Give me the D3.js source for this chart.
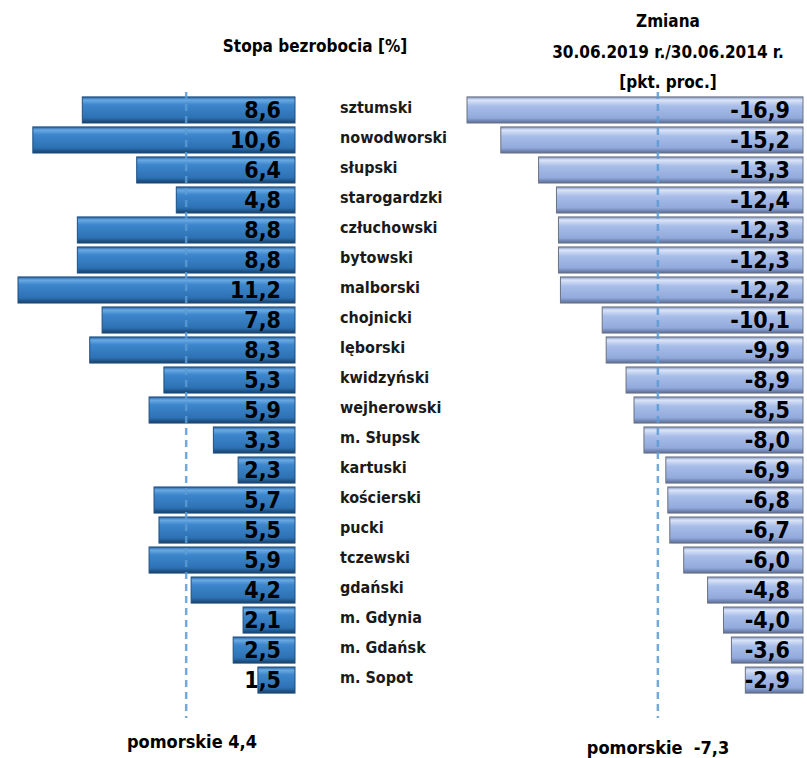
<!DOCTYPE html>
<html>
<head>
<meta charset="utf-8">
<script src="https://cdn.jsdelivr.net/npm/d3@7"></script>
<style>
  body { margin: 0; background: #fff; }
  svg { display: block; font-family: "Liberation Sans Narrow", "DejaVu Sans Condensed", sans-serif; font-weight: bold; }
</style>
</head>
<body>
<svg id="chart"></svg>
<script>
// powiaty
var categories = ["sztumski","nowodworski","słupski","starogardzki","człuchowski","bytowski","malborski",
  "chojnicki","lęborski","kwidzyński","wejherowski","m. Słupsk","kartuski","kościerski","pucki",
  "tczewski","gdański","m. Gdynia","m. Gdańsk","m. Sopot"];
// stopa bezrobocia [%]
var rate = [8.6,10.6,6.4,4.8,8.8,8.8,11.2,7.8,8.3,5.3,5.9,3.3,2.3,5.7,5.5,5.9,4.2,2.1,2.5,1.5];
// zmiana [pkt. proc.]
var change = [-16.9,-15.2,-13.3,-12.4,-12.3,-12.3,-12.2,-10.1,-9.9,-8.9,-8.5,-8.0,-6.9,-6.8,-6.7,-6.0,-4.8,-4.0,-3.6,-2.9];
var avgRate = 4.4, avgChange = -7.3;

var W = 807, H = 758;
var svg = d3.select("#chart").attr("width", W).attr("height", H);

var fmt = function(v){ return d3.format(".1f")(v).replace(".", ",").replace("−", "-"); };

var defs = svg.append("defs");
function grad(id, stops){
  var g = defs.append("linearGradient").attr("id", id).attr("x1",0).attr("y1",0).attr("x2",0).attr("y2",1);
  stops.forEach(function(s){ g.append("stop").attr("offset", s[0]).attr("stop-color", s[1]); });
}
grad("gLeft", [[0,"#24629f"],[0.12,"#6aaae4"],[0.3,"#3d86cc"],[0.8,"#2c71b3"],[1,"#173f66"]]);
grad("gRight", [[0,"#7d93c2"],[0.12,"#dbe5f8"],[0.35,"#a8bde8"],[0.8,"#92aadc"],[1,"#5a6c96"]]);

var y = d3.scaleBand().domain(categories).range([93, 697]).padding(0.13);

// lewa część - stopa bezrobocia
var xL = d3.scaleLinear().domain([0, 11.2]).range([295, 18]);

svg.selectAll(".barL").data(rate).enter().append("rect")
  .attr("class", "barL")
  .attr("x", function(d){ return xL(d); })
  .attr("y", function(d, i){ return y(categories[i]); })
  .attr("width", function(d){ return xL(0) - xL(d); })
  .attr("height", y.bandwidth())
  .attr("fill", "url(#gLeft)")
  .attr("stroke", "#1d4f80").attr("stroke-width", 1);

svg.append("line")
  .attr("x1", xL(avgRate)).attr("x2", xL(avgRate))
  .attr("y1", 92).attr("y2", 718)
  .attr("stroke", "#5b9bd5").attr("stroke-opacity", 0.85)
  .attr("stroke-width", 2.5).attr("stroke-dasharray", "7,5");

svg.selectAll(".valL").data(rate).enter().append("text")
  .attr("x", 281)
  .attr("y", function(d, i){ return y(categories[i]) + y.bandwidth()/2; })
  .attr("dy", "0.36em")
  .attr("text-anchor", "end")
  .attr("font-size", 23)
  .attr("fill", "#000")
  .text(fmt);

// nazwy powiatów
svg.selectAll(".cat").data(categories).enter().append("text")
  .attr("x", 340)
  .attr("y", function(d){ return y(d) + y.bandwidth()/2 - 3; })
  .attr("dy", "0.35em")
  .attr("font-size", 16)
  .attr("fill", "#1a1a1a")
  .text(function(d){ return d; });

// prawa część - zmiana
var xR = d3.scaleLinear().domain([0, -16.9]).range([803, 467]);

svg.selectAll(".barR").data(change).enter().append("rect")
  .attr("class", "barR")
  .attr("x", function(d){ return xR(d); })
  .attr("y", function(d, i){ return y(categories[i]); })
  .attr("width", function(d){ return xR(0) - xR(d); })
  .attr("height", y.bandwidth())
  .attr("fill", "url(#gRight)")
  .attr("stroke", "#6b7280").attr("stroke-width", 1);

svg.append("line")
  .attr("x1", xR(avgChange)).attr("x2", xR(avgChange))
  .attr("y1", 92).attr("y2", 718)
  .attr("stroke", "#5b9bd5").attr("stroke-opacity", 0.85)
  .attr("stroke-width", 2.5).attr("stroke-dasharray", "7,5");

svg.selectAll(".valR").data(change).enter().append("text")
  .attr("x", 790)
  .attr("y", function(d, i){ return y(categories[i]) + y.bandwidth()/2; })
  .attr("dy", "0.36em")
  .attr("text-anchor", "end")
  .attr("font-size", 23)
  .attr("fill", "#000")
  .text(fmt);

// tytuły
svg.append("text").attr("x", 315).attr("y", 52).attr("text-anchor", "middle")
  .attr("font-size", 17).text("Stopa bezrobocia [%]");
var tR = svg.append("text").attr("text-anchor", "middle").attr("font-size", 17);
tR.append("tspan").attr("x", 668).attr("y", 27).text("Zmiana");
tR.append("tspan").attr("x", 668).attr("y", 58).text("30.06.2019 r./30.06.2014 r.");
tR.append("tspan").attr("x", 668).attr("y", 88).text("[pkt. proc.]");

// podpisy średniej
svg.append("text").attr("x", 192).attr("y", 748).attr("text-anchor", "middle")
  .attr("font-size", 18).text("pomorskie " + fmt(avgRate));
svg.append("text").attr("x", 658).attr("y", 754).attr("text-anchor", "middle")
  .attr("font-size", 18).attr("xml:space", "preserve").text("pomorskie  " + fmt(avgChange));
</script>
</body>
</html>
